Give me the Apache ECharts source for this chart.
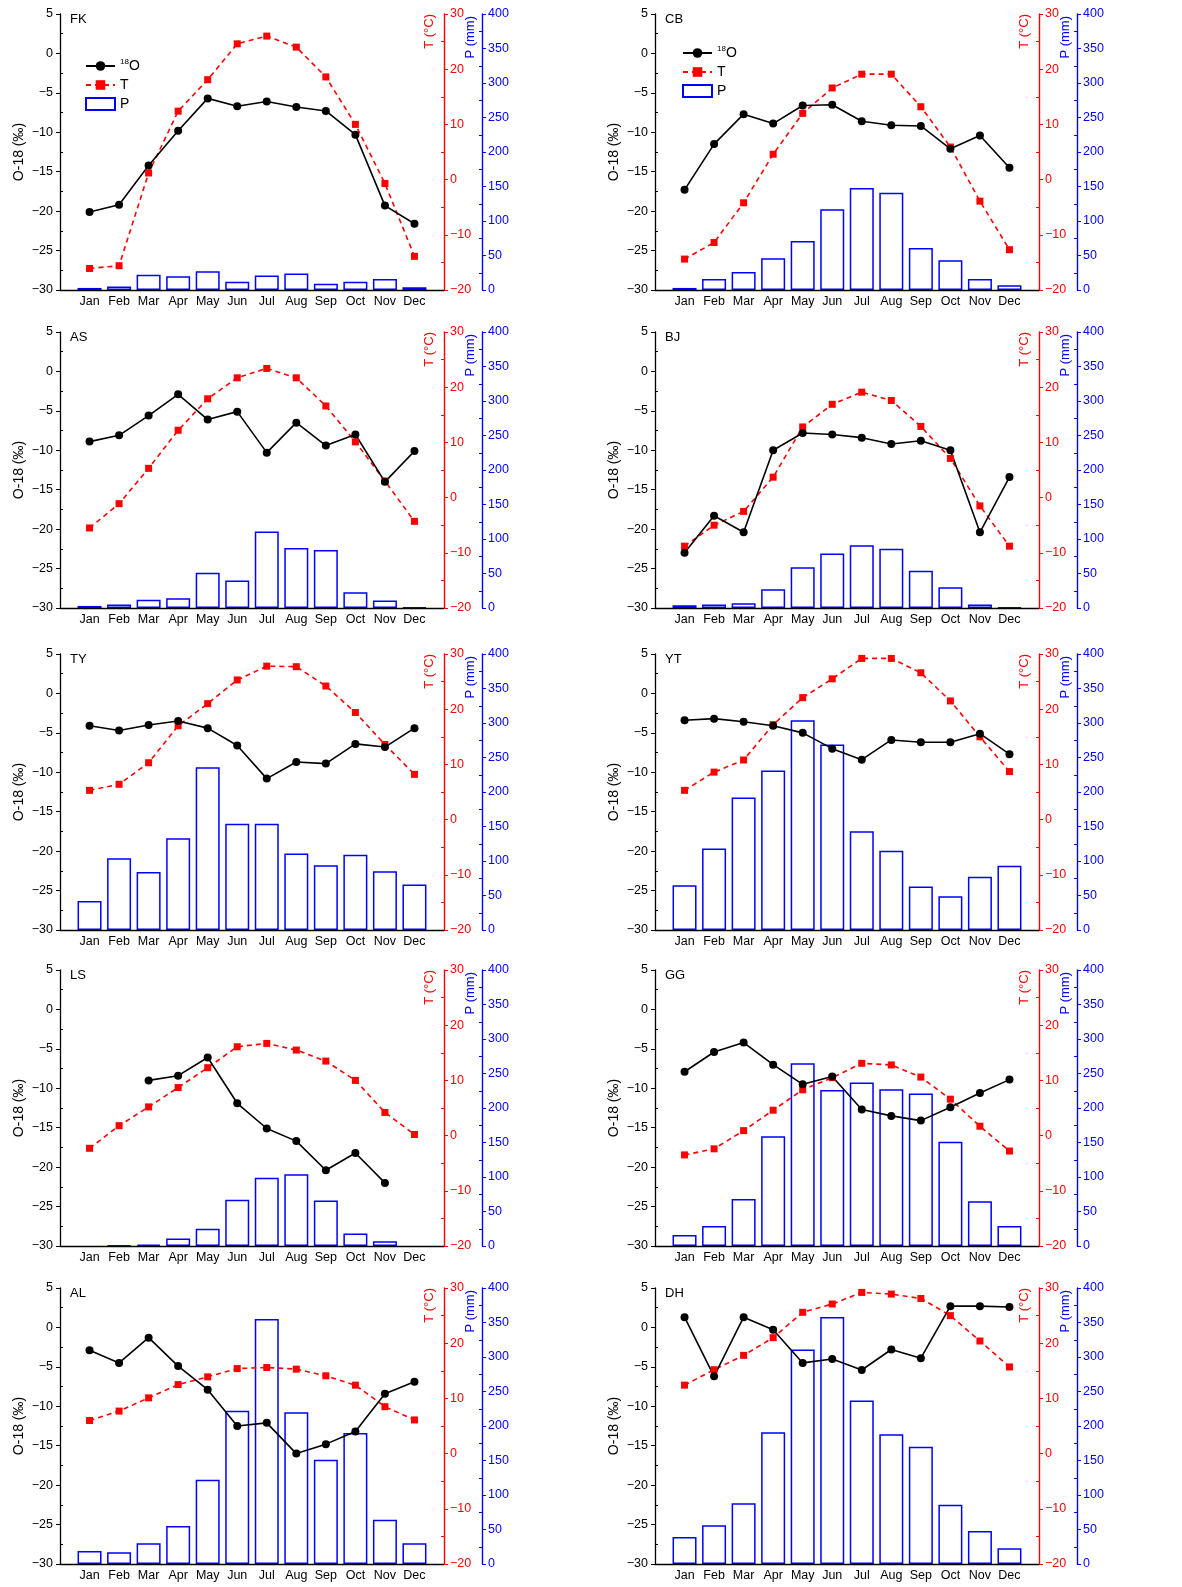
<!DOCTYPE html>
<html><head><meta charset="utf-8">
<script src="https://cdn.jsdelivr.net/npm/echarts@6/dist/echarts.min.js"></script>
<style>html,body{margin:0;padding:0;background:#fff}#c{width:1182px;height:1587px}</style>
</head><body><div id="c"></div>
<script>
const months = ['Jan','Feb','Mar','Apr','May','Jun','Jul','Aug','Sep','Oct','Nov','Dec'];
const stationNames = ['FK','CB','AS','BJ','TY','YT','LS','GG','AL','DH'];

const FK_O18 = [-20.1,-19.2,-14.2,-9.8,-5.7,-6.7,-6.1,-6.8,-7.3,-10.3,-19.3,-21.6];
const FK_T   = [-16.1,-15.6,1.2,12.4,18.1,24.6,26.0,24.0,18.6,10.0,-0.7,-13.9];
const FK_P   = [3,5,22,20,27,12,21,24,9,12,16,4];

const CB_O18 = [-17.3,-11.5,-7.7,-8.9,-6.6,-6.5,-8.6,-9.1,-9.2,-12.1,-10.4,-14.5];
const CB_T   = [-14.4,-11.4,-4.2,4.6,12.0,16.6,19.1,19.1,13.2,5.9,-3.9,-12.7];
const CB_P   = [3,16,26,46,71,117,148,141,61,43,16,7];

const AS_O18 = [-8.9,-8.1,-5.6,-2.9,-6.1,-5.1,-10.3,-6.5,-9.4,-8.0,-14.0,-10.1];
const AS_T   = [-5.5,-1.1,5.3,12.2,17.9,21.7,23.4,21.7,16.6,10.1,3.0,-4.3];
const AS_P   = [3,5,12,14,51,40,111,87,84,23,11,1];

const BJ_O18 = [-23.0,-18.3,-20.4,-10.0,-7.8,-8.0,-8.4,-9.2,-8.8,-10.0,-20.4,-13.4];
const BJ_T   = [-8.8,-5.0,-2.5,3.7,12.8,16.9,19.1,17.6,12.9,7.1,-1.5,-8.8];
const BJ_P   = [4,5,7,27,59,79,91,86,54,30,5,1];

const TY_O18 = [-4.1,-4.7,-4.0,-3.5,-4.4,-6.6,-10.8,-8.7,-8.9,-6.4,-6.8,-4.4];
const TY_T   = [5.3,6.4,10.3,17.0,21.0,25.3,27.8,27.7,24.2,19.4,13.6,8.2];
const TY_P   = [42,104,84,133,236,154,154,111,94,109,85,66];

const YT_O18 = [-3.4,-3.2,-3.6,-4.1,-5.0,-7.0,-8.4,-5.9,-6.2,-6.2,-5.1,-7.7];
const YT_T   = [5.3,8.6,10.8,17.2,22.1,25.5,29.2,29.2,26.6,21.5,15.0,8.7];
const YT_P   = [65,118,192,231,304,269,143,115,63,49,77,93];

const LS_O18 = [null,null,-9.0,-8.4,-6.1,-11.9,-15.1,-16.7,-20.4,-18.2,-22.0,null];
const LS_T   = [-2.3,1.8,5.2,8.7,12.3,16.1,16.7,15.5,13.5,10.0,4.2,0.2];
const LS_P   = [null,1,2,11,25,67,99,104,66,18,7,null];

const GG_O18 = [-7.9,-5.4,-4.2,-7.0,-9.5,-8.5,-12.7,-13.5,-14.1,-12.4,-10.6,-8.9];
const GG_T   = [-3.5,-2.4,0.9,4.6,8.3,10.5,13.1,12.8,10.6,6.6,1.7,-2.8];
const GG_P   = [16,29,68,159,265,226,237,227,221,151,65,29];

const AL_O18 = [-2.9,-4.5,-1.3,-4.9,-7.9,-12.5,-12.1,-16.0,-14.8,-13.2,-8.4,-6.9];
const AL_T   = [6.0,7.7,10.1,12.5,13.9,15.4,15.6,15.3,14.1,12.4,8.5,6.1];
const AL_P   = [19,17,30,55,122,222,355,220,151,190,64,30];

const DH_O18 = [1.3,-6.2,1.3,-0.3,-4.5,-4.0,-5.4,-2.8,-3.9,2.7,2.7,2.6];
const DH_T   = [12.4,15.2,17.8,21.0,25.6,27.1,29.2,28.9,28.1,25.0,20.4,15.7];
const DH_P   = [39,56,88,191,311,358,237,188,170,86,48,23];

const O18_ticks = {min:-30, max:5, interval:5};
const T_ticks = {min:-20, max:30, interval:10};
const P_ticks = {min:0, max:400, interval:50};

const panels = [
  {name:'FK', o:FK_O18, t:FK_T, p:FK_P},
  {name:'CB', o:CB_O18, t:CB_T, p:CB_P},
  {name:'AS', o:AS_O18, t:AS_T, p:AS_P},
  {name:'BJ', o:BJ_O18, t:BJ_T, p:BJ_P},
  {name:'TY', o:TY_O18, t:TY_T, p:TY_P},
  {name:'YT', o:YT_O18, t:YT_T, p:YT_P},
  {name:'LS', o:LS_O18, t:LS_T, p:LS_P},
  {name:'GG', o:GG_O18, t:GG_T, p:GG_P},
  {name:'AL', o:AL_O18, t:AL_T, p:AL_P},
  {name:'DH', o:DH_O18, t:DH_T, p:DH_P}
];

const rowTop = [14, 332, 654, 970, 1288];
const colLeft = [60, 655];
const W = 384, H = 276, OFF = 38;
const FONT = '"Liberation Sans", Arial, Helvetica, sans-serif';
const BLACK = '#000000', RED = '#ff0000', BLUE = '#0000ff';
const minus = v => v < 0 ? '\u2212' + Math.abs(v) : String(v);
const pairs = arr => arr.map((v, k) => v == null ? null : [k + 1, v]).filter(d => d);

const grids = [], xAxes = [], yAxes = [], series = [], graphics = [];
// main axes: indices 0..29 (3 per panel); minor-tick overlay axes appended after
const overlay = [];
panels.forEach((pn, i) => {
  const r = Math.floor(i / 2), c = i % 2;
  const left = colLeft[c], top = rowTop[r];
  grids.push({left: left, top: top, width: W, height: H, containLabel: false});
  xAxes.push({
    type: 'value', gridIndex: i, min: 0, max: 13, interval: 1, z: 5,
    axisLine: {show: true, onZero: false, lineStyle: {color: BLACK, width: 1.3}},
    axisTick: {show: false}, splitLine: {show: false},
    axisLabel: {formatter: v => (v >= 1 && v <= 12) ? months[v - 1] : '', color: BLACK,
      fontSize: 12.5, fontFamily: FONT, margin: 5, showMinLabel: true, showMaxLabel: true}
  });
  yAxes.push({
    type: 'value', gridIndex: i, position: 'left', ...O18_ticks, z: 5,
    axisLine: {show: true, lineStyle: {color: BLACK, width: 1.3}},
    axisTick: {show: true, length: 4, lineStyle: {color: BLACK}},
    splitLine: {show: false},
    axisLabel: {formatter: minus, color: BLACK, fontSize: 12.5, fontFamily: FONT, margin: 7},
    name: 'O-18 (‰)', nameLocation: 'middle', nameGap: 34,
    nameTextStyle: {fontSize: 14, color: BLACK, fontFamily: FONT}
  });
  yAxes.push({
    type: 'value', gridIndex: i, position: 'right', offset: 0, ...T_ticks, z: 5,
    axisLine: {show: true, lineStyle: {color: RED, width: 1.4}},
    axisTick: {show: true, length: 4, lineStyle: {color: RED}},
    splitLine: {show: false},
    axisLabel: {formatter: minus, color: RED, fontSize: 12.5, fontFamily: FONT, margin: 6}
  });
  yAxes.push({
    type: 'value', gridIndex: i, position: 'right', offset: OFF, ...P_ticks, z: 5,
    axisLine: {show: true, lineStyle: {color: BLUE, width: 1.4}},
    axisTick: {show: true, length: 4, lineStyle: {color: BLUE}},
    splitLine: {show: false},
    axisLabel: {formatter: minus, color: BLUE, fontSize: 12.5, fontFamily: FONT, margin: 6}
  });
  [[O18_ticks, 'left', 0, BLACK], [T_ticks, 'right', 0, RED], [P_ticks, 'right', OFF, BLUE]].forEach(a => {
    overlay.push({
      type: 'value', gridIndex: i, position: a[1], offset: a[2], ...a[0], z: 5,
      axisLine: {show: false}, axisLabel: {show: false}, splitLine: {show: false},
      axisTick: {show: false, inside: true},
      minorTick: {show: true, splitNumber: 2, length: 3, lineStyle: {color: a[3]}}
    });
  });
  series.push({
    type: 'bar', name: 'P', xAxisIndex: i, yAxisIndex: 3 * i + 2, data: pairs(pn.p),
    barWidth: 24, itemStyle: {color: 'rgba(255,255,255,0)', borderColor: BLUE, borderWidth: 1.5}
  });
  series.push({
    type: 'line', name: 'T', xAxisIndex: i, yAxisIndex: 3 * i + 1, data: pairs(pn.t),
    symbol: 'rect', symbolSize: 7, itemStyle: {color: RED},
    lineStyle: {color: RED, width: 1.6, type: [5, 4]}
  });
  series.push({
    type: 'line', name: '18O', xAxisIndex: i, yAxisIndex: 3 * i, data: pairs(pn.o),
    symbol: 'circle', symbolSize: 8, itemStyle: {color: BLACK},
    lineStyle: {color: BLACK, width: 1.6}
  });
  graphics.push({type: 'text', x: left + 10, y: top + 5,
    style: {text: pn.name, font: '13px ' + FONT, fill: BLACK, textAlign: 'left', textVerticalAlign: 'middle'}});
  graphics.push({type: 'text', x: left + W - 15, y: top, rotation: Math.PI / 2,
    style: {text: 'T (°C)', font: '13px ' + FONT, fill: RED, textAlign: 'right', textVerticalAlign: 'middle'}});
  graphics.push({type: 'text', x: left + W + OFF - 12, y: top + 2, rotation: Math.PI / 2,
    style: {text: 'P (mm)', font: '13px ' + FONT, fill: BLUE, textAlign: 'right', textVerticalAlign: 'middle'}});
});

const legendBase = {
  orient: 'vertical', itemWidth: 29, itemHeight: 12, itemGap: 5,
  data: ['18O', 'T', {name: 'P', icon: 'rect'}], selectedMode: false,
  formatter: n => n === '18O' ? '{s|18}{n|O}' : '{n|' + n + '}',
  textStyle: {fontFamily: FONT, color: BLACK,
    rich: {s: {fontSize: 8, fontFamily: FONT, color: BLACK, padding: [0, 0, 8, 0]},
           n: {fontSize: 14, fontFamily: FONT, color: BLACK}}}
};

const chart = echarts.init(document.getElementById('c'), null, {renderer: 'canvas'});
chart.setOption({
  animation: false,
  backgroundColor: '#ffffff',
  grid: grids, xAxis: xAxes, yAxis: yAxes.concat(overlay), series: series,
  legend: [
    Object.assign({left: 80, top: 53}, legendBase),
    Object.assign({left: 677, top: 40}, legendBase)
  ],
  graphic: graphics
});
</script></body></html>
